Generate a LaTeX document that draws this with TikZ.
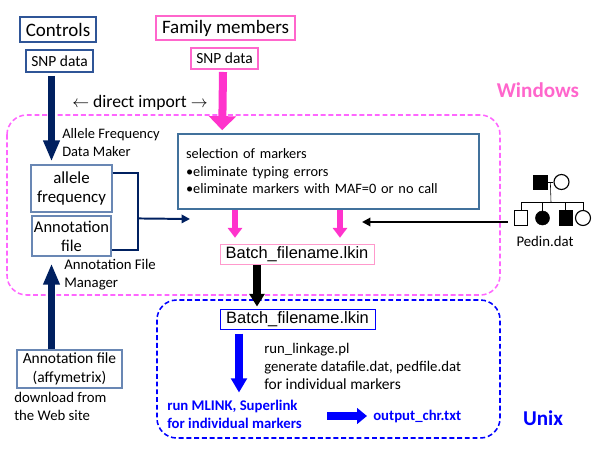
\documentclass[tikz,border=0pt]{standalone}
\usepackage{fontspec}
\setmainfont{Carlito}
\newfontfamily\arialfont{Liberation Sans}
\usetikzlibrary{arrows.meta,calc,positioning}
\definecolor{navy}{RGB}{0,32,96}
\definecolor{cblue}{RGB}{47,85,151}
\definecolor{steel}{RGB}{65,113,156}
\definecolor{lsteel}{RGB}{105,135,180}
\definecolor{hpink}{RGB}{255,51,204}
\definecolor{bpink}{RGB}{255,102,204}
\definecolor{dpink}{RGB}{255,102,255}
\definecolor{lpink}{RGB}{255,153,204}
\definecolor{ublue}{RGB}{0,0,255}
% one pixel of the drawing
\def\pix{0.025cm}
\tikzset{%
    % style for the boxes of the two data sources
    source box/.style={%
        draw, line width=1.4pt,
        inner sep=0pt,
        font=\fontsize{13.5}{16}\selectfont,
    },
    % style for the small SNP data boxes
    snp box/.style={%
        draw, line width=1.4pt,
        inner sep=0pt,
        font=\fontsize{11}{13}\selectfont,
    },
    % style for the file boxes on the left
    file box/.style={%
        draw=lsteel, line width=0.8pt,
        inner sep=0pt, align=center,
    },
    % style for the batch file boxes
    batch box/.style={%
        draw, line width=0.7pt,
        inner sep=0pt,
        font=\arialfont\fontsize{11.7}{14}\selectfont,
    },
    % style for the small notes beside the arrows
    note/.style={%
        inner sep=0pt, align=left,
        font=\fontsize{10.5}{12.8}\selectfont,
    },
    % style for the names of the systems
    sys label/.style={%
        inner sep=0pt,
        font=\fontsize{15}{18}\selectfont\bfseries,
    },
    % style for the dashed frames
    frame/.style={%
        line width=1.1pt, rounded corners=14pt,
        dash pattern=on 3.5pt off 2pt,
    },
    % style for the broad arrows
    fat arrow/.style={%
        line width=5pt,
        -{Triangle[length=15pt, width=11pt]},
    },
    % style for the thin arrows
    thin arrow/.style={%
        line width=1.4pt,
        -{Triangle[length=6pt, width=6pt]},
    },
}

\begin{document}
\begin{tikzpicture}[x=\pix, y=-\pix]
    % the page is 600 x 450 pixels
    \useasboundingbox (0,0) rectangle (600,450);
    % frames of the two systems
    \draw [frame, dpink] (7,115) rectangle (500,295);
    \draw [frame, ublue] (157,300) rectangle (500,438);
    \node [sys label, text=bpink] (windows) at (538,90) {Windows};
    \node [sys label, text=ublue] (unix) at (543,418) {Unix};
    % data sources
    \node (controls) [source box, draw=cblue, minimum width=76*\pix,
          minimum height=25*\pix] at (58,29.5) {Controls};
    \node (ctrlsnp) [snp box, draw=cblue, minimum width=67*\pix,
          minimum height=22*\pix] at (59.5,61) {SNP data};
    \node (family) [source box, draw=bpink, minimum width=139*\pix,
          minimum height=24*\pix] at (225.5,28) {Family members};
    \node (famsnp) [snp box, draw=bpink, minimum width=67*\pix,
          minimum height=21*\pix] at (224.5,58.5) {SNP data};
    \node (import) [font=\fontsize{12.5}{15}\selectfont, inner sep=0pt]
          at (140,103) {$\leftarrow$ direct import $\rightarrow$};
    % files inside Windows
    \node (amaker) [note, anchor=north west,
          font=\fontsize{10.3}{12.8}\selectfont] at (62,128)
          {Allele Frequency\\Data Maker};
    \node (allele) [file box, minimum width=81*\pix, minimum height=47*\pix,
          font=\fontsize{12}{14.2}\selectfont] at (71.5,188.5)
          {allele\\frequency};
    \node (annot) [file box, minimum width=79*\pix, minimum height=40*\pix,
          font=\fontsize{11.7}{13.5}\selectfont] at (71.5,236)
          {Annotation\\file};
    \node (amanager) [note, anchor=north west] at (64,259)
          {Annotation File\\Manager};
    \node (select) [draw=steel, line width=1.1pt, inner sep=0pt,
          minimum width=301*\pix, minimum height=75*\pix,
          text width=285*\pix, align=left,
          font=\fontsize{10.2}{12.4}\selectfont] at (328.5,171.5)
          {selection of markers\\
           •eliminate typing errors\\
           •eliminate markers with MAF=0 or no call};
    \node (batchwin) [batch box, draw=lpink, minimum width=154*\pix,
          minimum height=20*\pix] at (297,254) {Batch\_filename.lkin};
    % pedigree
    \node (father) [draw, fill=black, inner sep=0pt, minimum size=14*\pix]
          at (540,182) {};
    \node (mother) [draw, circle, thick, inner sep=0pt, minimum size=15*\pix]
          at (561.5,182) {};
    \node (kidA) [draw, inner sep=0pt, minimum width=13*\pix,
          minimum height=15*\pix] at (521,218) {};
    \node (kidB) [draw, circle, fill=black, inner sep=0pt,
          minimum size=14*\pix] at (542.5,218) {};
    \node (kidC) [draw, fill=black, inner sep=0pt, minimum width=13*\pix,
          minimum height=15*\pix] at (565.5,218) {};
    \node (kidD) [draw, circle, thick, inner sep=0pt, minimum size=15*\pix]
          at (583,218) {};
    \draw (father) -- (mother);
    \coordinate (sibs) at (551,202);
    \draw ($(father.east)!0.5!(mother.west)$) -- (sibs);
    \draw (kidA.north) -- (kidA.north |- sibs) -- (kidD.north |- sibs)
          -- (kidD.north);
    \draw (kidB.north) -- (kidB.north |- sibs);
    \draw (kidC.north) -- (kidC.north |- sibs);
    \node (pedin) [note] at (545,241) {Pedin.dat};
    % files inside Unix
    \node (batchunix) [batch box, draw=ublue, minimum width=155*\pix,
          minimum height=20*\pix] at (297.5,319) {Batch\_filename.lkin};
    \node (linkage) [note, anchor=north west] at (264,343)
          {run\_linkage.pl\\generate datafile.dat, pedfile.dat\\
           {\fontsize{11}{12.8}\selectfont for individual markers}};
    \node (mlink) [note, anchor=north west, text=ublue,
          font=\fontsize{10.5}{12.8}\selectfont\bfseries] at (167,400)
          {run MLINK, Superlink\\for individual markers};
    \node (output) [note, anchor=west, text=ublue,
          font=\fontsize{10.5}{12.8}\selectfont\bfseries] at (373,416)
          {output\_chr.txt};
    \node (affy) [file box, minimum width=105*\pix, minimum height=38*\pix,
          font=\fontsize{11}{14}\selectfont] at (69.5,369)
          {Annotation file\\(affymetrix)};
    \node (download) [note, anchor=north west] at (14,392)
          {download from\\the Web site};
    % arrows
    %% controls into the allele frequency
    \draw [fat arrow, navy] ($(ctrlsnp.south)+(-8,3)$)
          -- ($(allele.north)+(-20,-3)$);
    %% annotation from the web site
    \draw [fat arrow, navy] ($(affy.north)+(-18,0)$)
          -- ($(annot.south)+(-20,7)$);
    %% family members into the selection
    \draw [fat arrow, hpink, line width=5.7pt,
           -{Triangle[length=10pt, width=19pt]}]
          ($(famsnp.south)+(-1.5,2)$) -- ($(select.north west)+(45,-3)$);
    %% bracket from the two files
    \coordinate (merge) at (190,219);
    \draw [navy, line width=1.4pt]
          ($(allele.north east)+(0,9)$) -- ++(25,0)
          |- ($(annot.south east)+(0,-7)$);
    \draw [thin arrow, navy] ($(allele.north east)+(25,54)$) -- (merge);
    %% selection into the batch file
    \foreach \dx in {-93.5,11.5}
        \draw [fat arrow, hpink, line width=4.5pt,
               -{Triangle[length=7pt, width=10pt]}]
              ($(select.south)+(\dx,0)$) -- ($(select.south)+(\dx,28)$);
    %% pedigree into the batch file
    \coordinate (pedend) at (362,222);
    \draw [thin arrow, black] ($(kidA.west)+(-6.5,4)$) -- (pedend);
    %% batch file from Windows to Unix
    \draw [fat arrow, black, line width=5pt,
           -{Triangle[length=9pt, width=10.5pt]}]
          ($(batchwin.south)+(-40,1)$) -- ($(batchunix.north)+(-40.5,-2)$);
    %% run the linkage
    \draw [fat arrow, ublue, line width=5.7pt,
           -{Triangle[length=10pt, width=11pt]}]
          ($(batchunix.south)+(-58.5,4)$) -- ($(batchunix.south)+(-58.5,63)$);
    \draw [fat arrow, ublue, line width=5.7pt,
           -{Triangle[length=7pt, width=11pt]}]
          ($(output.west)+(-46,0)$) -- ($(output.west)+(-6,0)$);
\end{tikzpicture}
\end{document}
